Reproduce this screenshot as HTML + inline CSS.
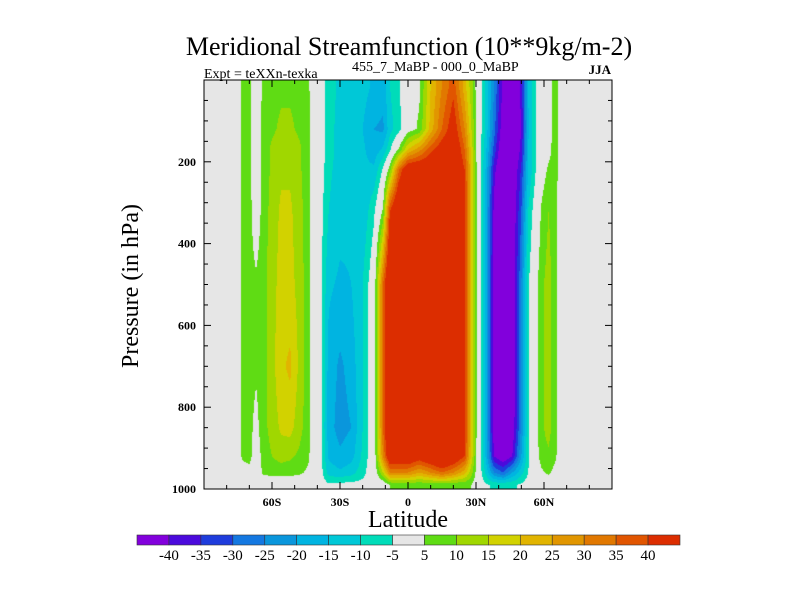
<!DOCTYPE html>
<html><head><meta charset="utf-8"><style>
body{margin:0;background:#fff;}
#wrap{position:relative;width:800px;height:600px;overflow:hidden;font-family:"Liberation Serif",serif;}
canvas{position:absolute;left:204px;top:80px;}
svg{position:absolute;left:0;top:0;}
</style></head><body>
<div id="wrap">
<canvas id="cv" width="408" height="409"></canvas>
<svg id="sv" width="800" height="600">
<text x="409" y="55" font-size="26" text-anchor="middle">Meridional Streamfunction (10**9kg/m-2)</text>
<text x="204" y="78" font-size="14">Expt = teXXn-texka</text>
<text x="352" y="71" font-size="14">455_7_MaBP - 000_0_MaBP</text>
<text x="611" y="74" font-size="13" font-weight="bold" text-anchor="end">JJA</text>
<text x="408" y="527" font-size="24" text-anchor="middle">Latitude</text>
<text x="0" y="0" font-size="24" text-anchor="middle" transform="translate(138,286) rotate(-90)">Pressure (in hPa)</text>
</svg>
</div>
<script>
const lats=[-90,-76,-73,-70,-67,-64,-60,-56,-52,-48,-44,-41,-38,-35,-30,-25,-20,-15,-11,-8,-4,0,5,10,15,20,25,28,31,34,38,42,46,50,53,56,59,62,65,68,72,90];
const levels=[15,120,170,220,320,500,700,850,920,960,990];
const row015=[0,2,6,7,0,6,8,9,9,8,6,0, -2,-8,-11,-12,-13,-16,-18,-10,-6, 2,4,20,30,38,22,12,0, -10,-25,-42,-48,-38,-15,-6, 0,2,8,0,0,0];
const row120=[0,2,6,7,0,7,9,11,11,9,7,0, -2,-8,-12,-13,-15,-20,-21,-12,-7, 2,6,22,35,45,30,15,0, -10,-28,-45,-50,-40,-16,-6, 0,2,8,0,0,0];
const row170=[0,2,6,7,0,7,11,13,13,11,7,0, -2,-8,-12,-13,-14,-18,-14,-6,6, 20,28,38,45,50,35,18,0, -12,-32,-48,-50,-38,-15,-6, 0,3,8,1,0,0];
const row220=[0,2,6,7,0,7,11,14,14,11,7,0, -3,-9,-12,-13,-14,-14,-4,8,35, 50,50,50,52,52,40,20,0, -14,-38,-50,-48,-34,-15,-6, 2,6,7,1,0,0];
const row320=[0,2,6,7,1,7,12,16,16,12,7,0, -4,-10,-13,-14,-14,-6,6,40,55, 55,55,55,55,55,42,20,0, -15,-42,-50,-46,-30,-10,-2, 6,10,7,0,0,0];
const row500=[0,2,6,7,6,8,13,17,17,13,7,0, -5,-14,-16,-15,-10,0,35,55,55, 55,55,55,55,55,42,20,0, -15,-44,-50,-46,-25,-6,2, 9,12,7,0,0,0];
const row700=[0,2,6,7,6,8,13,19,21,14,7,0, -5,-17,-21,-18,-10,0,35,55,55, 55,55,55,55,55,42,20,0, -15,-44,-50,-46,-25,-6,2, 9,12,7,0,0,0];
const row850=[0,2,6,7,3,8,12,16,17,12,7,0, -5,-18,-22,-20,-10,0,35,55,55, 55,55,55,55,55,42,20,0, -15,-44,-50,-45,-24,-6,2, 9,12,7,0,0,0];
const row920=[0,1,6,7,1,7,10,12,11,9,6,0, -5,-16,-19,-17,-9,0,30,50,50, 50,45,50,55,50,40,18,0, -14,-40,-46,-40,-20,-6,1, 8,9,6,0,0,0];
const row960=[0,0,2,3,0,6,7,7,7,6,4,0, -4,-12,-14,-12,-7,0,15,30,30, 30,25,30,35,30,22,12,0, -10,-25,-30,-20,-12,-5,0, 4,6,3,0,0,0];
const row990=[0,0,0,0,0,0,0,0,0,0,0,0, -2,-4,-3,-3,-3,-2,0,5,6, 6,6,6,6,6,6,5,0, -4,-6,-6,-6,-4,-2,0, 0,0,0,0,0,0];
const grid=[row015,row120,row170,row220,row320,row500,row700,row850,row920,row960,row990];
const binColors=["#8200dc","#4b0adc","#1e3cdc","#1478e1","#0a96dc","#00b4e1","#00c8d7","#00dcb9","#e6e6e6","#5fdc14","#a0d700","#d2d200","#e1b400","#e19600","#e17800","#e15500","#dc2d00"];
const cbLabels=["-40","-35","-30","-25","-20","-15","-10","-5","5","10","15","20","25","30","35","40"];
const edges=[-40,-35,-30,-25,-20,-15,-10,-5,5,10,15,20,25,30,35,40];
const latTicks=[-60,-30,0,30,60];
const latTickLabels=["60S","30S","0","30N","60N"];
const pTicks=[200,400,600,800,1000];

const X0=204,Y0=80,W=408,H=409;
const xOf=lat=>X0+(lat+90)/180*W;
const yOf=p=>Y0+p/1000*H;
function bin(v){let i=0;while(i<edges.length&&v>=edges[i])i++;return i;}
function hex(c){return [parseInt(c.substr(1,2),16),parseInt(c.substr(3,2),16),parseInt(c.substr(5,2),16)];}
const rgb=binColors.map(hex);
function seg(arr,v){if(v<=arr[0])return [0,0];if(v>=arr[arr.length-1])return [arr.length-2,1];let i=0;while(arr[i+1]<v)i++;return [i,(v-arr[i])/(arr[i+1]-arr[i])];}
const cv=document.getElementById('cv');const ctx=cv.getContext('2d');
const img=ctx.createImageData(W,H);
for(let py=0;py<H;py++){const p=(py+0.5)/H*1000;const [j,ty]=seg(levels,p);
 for(let px=0;px<W;px++){const lat=-90+(px+0.5)/W*180;const [i,tx]=seg(lats,lat);
  const a=grid[j][i],b=grid[j][i+1],c=grid[j+1][i],d=grid[j+1][i+1];
  const v=(a*(1-tx)+b*tx)*(1-ty)+(c*(1-tx)+d*tx)*ty;
  const col=rgb[bin(v)];const k=(py*W+px)*4;img.data[k]=col[0];img.data[k+1]=col[1];img.data[k+2]=col[2];img.data[k+3]=255;}}
ctx.putImageData(img,0,0);

const NS="http://www.w3.org/2000/svg";const sv=document.getElementById('sv');
function mk(t,at){const e=document.createElementNS(NS,t);for(const k in at)e.setAttribute(k,at[k]);sv.appendChild(e);return e;}
let fr=mk('rect',{x:X0,y:Y0,width:W,height:H,fill:'none',stroke:'#000','stroke-width':1});


for(let lat=-80;lat<=80;lat+=10){const x=xOf(lat);const L=(lat%30===0)?7:4;
 let t1=mk('line',{x1:x,y1:Y0+H,x2:x,y2:Y0+H-L,stroke:'#000'});
 
 
 let t2=mk('line',{x1:x,y1:Y0,x2:x,y2:Y0+L,stroke:'#000'});
 
 }
latTicks.forEach((lat,i)=>{let t=mk('text',{x:xOf(lat),y:506,'font-size':12,'text-anchor':'middle','font-weight':'bold'});t.textContent=latTickLabels[i];
 
 });
for(let p=50;p<1000;p+=50){const y=yOf(p);const L=(p%200===0)?7:4;
 let t1=mk('line',{x1:X0,y1:y,x2:X0+L,y2:y,stroke:'#000'});
 
 
 let t2=mk('line',{x1:X0+W,y1:y,x2:X0+W-L,y2:y,stroke:'#000'});
 
 }
pTicks.forEach(p=>{let t=mk('text',{x:196,y:yOf(p)+4,'font-size':12,'text-anchor':'end','font-weight':'bold'});t.textContent=p;
 
 });
const CX=137,CY=535,BW=543/binColors.length;
binColors.forEach((c,i)=>{let r=mk('rect',{x:CX+i*BW,y:CY,width:BW,height:10,fill:c,stroke:'#333','stroke-width':0.6});
 
 });
cbLabels.forEach((l,i)=>{let t=mk('text',{x:CX+(i+1)*BW,y:560,'font-size':15,'text-anchor':'middle'});t.textContent=l;
 
 });
</script>
</body></html>
